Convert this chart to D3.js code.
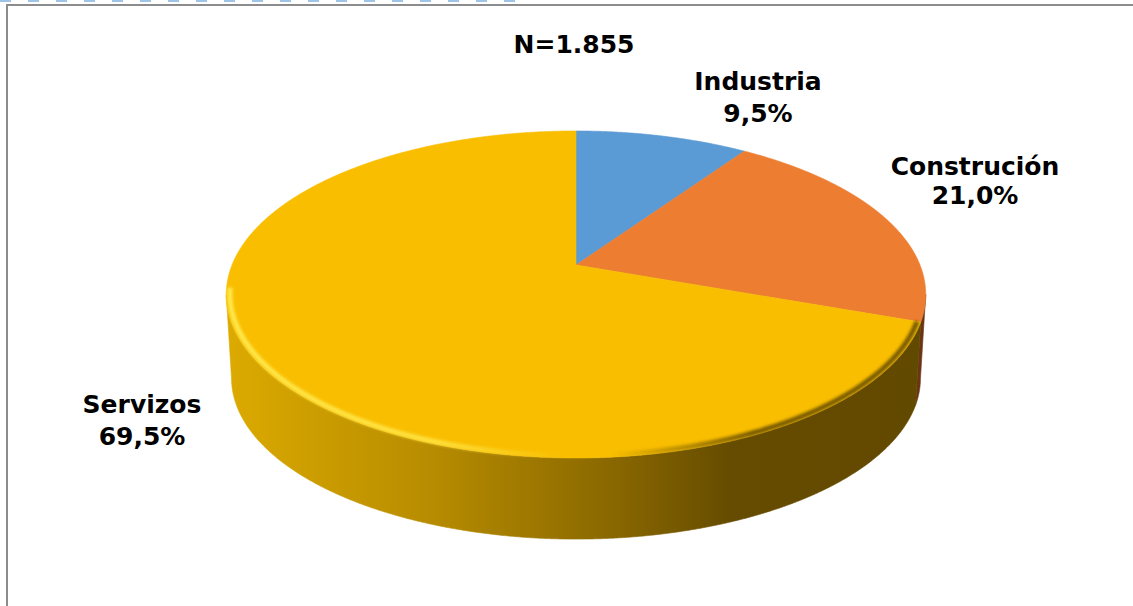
<!DOCTYPE html>
<html>
<head>
<meta charset="utf-8">
<script src="https://cdn.jsdelivr.net/npm/d3@7"></script>
<style>
  body { margin: 0; background: #fff; overflow: hidden; }
  svg { display: block; }
</style>
</head>
<body>
<div id="chart"></div>
<script>
// data
const categories = ["Industria", "Construción", "Servizos"];
const shares = [9.5, 21.0, 69.5];
const shareLabels = ["9,5%", "21,0%", "69,5%"];
const totalLabel = "N=1.855";

// colours for the top face and the side of each slice
const topColors = ["#5b9bd5", "#ed7d31", "#f9be00"];
const sideStops = [
  ["#4a7fb0", "#2b4a66"],
  ["#c0642a", "#6a3414"],
  ["#dba800", "#654b00"]
];

const W = 1133, H = 606;

const svg = d3.select("#chart")
  .append("svg")
    .attr("width", W)
    .attr("height", H);

const defs = svg.append("defs");

// frame of the chart area, plus the cut off line above it
svg.append("path")
  .attr("d", `M7,${H} V5 H${W}`)
  .attr("fill", "none")
  .attr("stroke", "#8c8c8c")
  .attr("stroke-width", 2);
svg.append("line")
  .attr("x1", 0).attr("x2", 520).attr("y1", 1).attr("y2", 1)
  .attr("stroke", "#9dc3e6")
  .attr("stroke-width", 2)
  .attr("stroke-dasharray", "11,17");

// perspective projection of the pie disc
const cx = 576, cy = 265;   // pie centre on screen
const a = 344, b = 158.2;   // half axes
const k = 0.1803;           // perspective strength
const depth = 84, bottomScale = 0.985;

function proj(theta, r = 1, bottom = false) {
  const u = r * Math.sin(theta), v = r * Math.cos(theta);
  const d = 1 + k * v;
  const s = bottom ? bottomScale : 1;
  return [cx + s * a * u / d, (bottom ? cy + depth : cy) - s * b * v / d];
}

function samples(t0, t1) {
  const n = Math.max(2, Math.ceil(Math.abs(t1 - t0) / 0.005));
  return d3.range(n + 1).map(i => t0 + (t1 - t0) * i / n);
}

const pie = d3.pie().sort(null).startAngle(0).endAngle(2 * Math.PI);
const arcs = pie(shares);
const line = d3.line();

// visible part of the side wall
const thR = Math.acos(-k), thL = 2 * Math.PI - thR;
const xLeft = proj(thL)[0], xRight = proj(thR)[0];

arcs.forEach((d, i) => {
  const g = defs.append("linearGradient")
    .attr("id", "side" + i)
    .attr("gradientUnits", "userSpaceOnUse")
    .attr("x1", xLeft).attr("x2", xRight).attr("y1", 0).attr("y2", 0);
  if (i === 2) {
    g.append("stop").attr("offset", 0).attr("stop-color", "#dcaa00");
    g.append("stop").attr("offset", 0.3).attr("stop-color", "#b68b00");
    g.append("stop").attr("offset", 0.55).attr("stop-color", "#8a6800");
    g.append("stop").attr("offset", 0.72).attr("stop-color", "#664c00");
    g.append("stop").attr("offset", 1).attr("stop-color", "#624900");
  } else {
    g.append("stop").attr("offset", 0).attr("stop-color", sideStops[i][0]);
    g.append("stop").attr("offset", 1).attr("stop-color", sideStops[i][1]);
  }
});

// side walls
const sides = svg.append("g");
arcs.forEach((d, i) => {
  const lo = Math.max(d.startAngle, thR), hi = Math.min(d.endAngle, thL);
  if (hi <= lo) return;
  const ts = samples(lo, hi);
  const pts = ts.map(t => proj(t)).concat(ts.slice().reverse().map(t => proj(t, 1, true)));
  sides.append("path")
    .attr("d", line(pts) + "Z")
    .attr("fill", `url(#side${i})`)
    .attr("stroke", `url(#side${i})`)
    .attr("stroke-width", 0.6);
});

// top faces
const tops = svg.append("g");
arcs.forEach((d, i) => {
  const pts = [[cx, cy]].concat(samples(d.startAngle, d.endAngle).map(t => proj(t)));
  tops.append("path")
    .attr("d", line(pts) + "Z")
    .attr("fill", topColors[i])
    .attr("stroke", topColors[i])
    .attr("stroke-width", 0.6);
});

// bevel along the front rim: light on the left, shadow on the right
defs.append("filter").attr("id", "soft")
  .append("feGaussianBlur").attr("stdDeviation", 1.6);
const rimGrad = defs.append("linearGradient")
  .attr("id", "rim")
  .attr("gradientUnits", "userSpaceOnUse")
  .attr("x1", xLeft).attr("x2", xRight).attr("y1", 0).attr("y2", 0);
rimGrad.append("stop").attr("offset", 0).attr("stop-color", "#ffe94d").attr("stop-opacity", 1);
rimGrad.append("stop").attr("offset", 0.3).attr("stop-color", "#ffe94d").attr("stop-opacity", 0.8);
rimGrad.append("stop").attr("offset", 0.48).attr("stop-color", "#ffe94d").attr("stop-opacity", 0);
rimGrad.append("stop").attr("offset", 0.55).attr("stop-color", "#6b5000").attr("stop-opacity", 0);
rimGrad.append("stop").attr("offset", 0.75).attr("stop-color", "#6b5000").attr("stop-opacity", 0.9);
rimGrad.append("stop").attr("offset", 1).attr("stop-color", "#6b5000").attr("stop-opacity", 0.9);

const rimPts = samples(arcs[2].startAngle, thL + 0.04).map(t => proj(t, 0.99));
svg.append("path")
  .attr("d", line(rimPts))
  .attr("fill", "none")
  .attr("stroke", "url(#rim)")
  .attr("stroke-width", 5)
  .attr("filter", "url(#soft)");

// labels
const labelPos = [[758, 90], [975, 175], [142, 413]];
const lineGap = 32;
const font = "bold 25px 'DejaVu Sans', Verdana, sans-serif";

svg.append("text")
  .attr("x", 574).attr("y", 53)
  .attr("text-anchor", "middle")
  .style("font", font)
  .attr("fill", "#000")
  .text(totalLabel);

const labels = svg.append("g");
categories.forEach((c, i) => {
  const t = labels.append("text")
    .attr("text-anchor", "middle")
    .style("font", font)
    .attr("fill", "#000");
  t.append("tspan").attr("x", labelPos[i][0]).attr("y", labelPos[i][1]).text(c);
  t.append("tspan").attr("x", labelPos[i][0]).attr("y", labelPos[i][1] + (i === 1 ? 29 : lineGap)).text(shareLabels[i]);
});
</script>
</body>
</html>
